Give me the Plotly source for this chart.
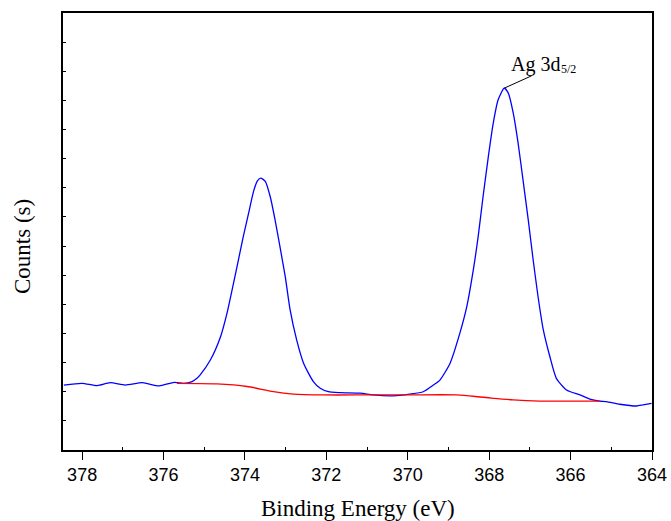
import plotly.graph_objects as go

# Binding energy (eV) and counts (arbitrary units)
be_spectrum = [378.45, 378.00, 377.63, 377.31, 376.94, 376.52, 376.11, 375.74, 375.51,
               375.30, 375.18, 375.10, 374.85, 374.60, 374.44, 374.28, 374.16, 374.04,
               373.91, 373.79, 373.69, 373.61, 373.50, 373.38, 373.26, 373.14, 373.01,
               372.89, 372.73, 372.56, 372.32, 372.15, 371.95, 371.66, 371.17, 370.85,
               370.36, 369.95, 369.62, 369.37, 369.21, 368.96, 368.72, 368.55, 368.39,
               368.27, 368.15, 368.02, 367.90, 367.78, 367.63, 367.53, 367.41, 367.29,
               367.17, 367.04, 366.92, 366.80, 366.67, 366.51, 366.35, 366.10, 365.77,
               365.53, 365.28, 365.12, 364.79, 364.38, 364.22, 364.01]
counts_spectrum = [2.23, 2.29, 2.21, 2.31, 2.23, 2.31, 2.20, 2.32, 2.29,
                   2.35, 2.46, 2.58, 3.09, 3.89, 4.70, 5.73, 6.53, 7.33,
                   8.13, 8.87, 9.25, 9.33, 9.22, 8.70, 7.90, 6.98, 5.95,
                   4.81, 3.78, 2.98, 2.35, 2.12, 2.00, 1.97, 1.95, 1.89,
                   1.86, 1.92, 2.00, 2.23, 2.40, 2.98, 4.01, 4.92, 6.18,
                   7.33, 8.70, 10.08, 11.22, 12.02, 12.42, 12.25, 11.57, 10.54,
                   9.28, 7.90, 6.53, 5.27, 4.12, 3.21, 2.46, 2.06, 1.89,
                   1.75, 1.68, 1.66, 1.57, 1.51, 1.55, 1.60]

be_background = [375.67, 374.69, 373.95, 373.30, 372.81, 372.07, 371.0, 370.0,
                 368.80, 368.15, 367.41, 366.76, 365.28]
counts_background = [2.29, 2.27, 2.18, 2.00, 1.92, 1.89, 1.89, 1.89,
                     1.89, 1.81, 1.72, 1.68, 1.68]

x_ticks = [378, 376, 374, 372, 370, 368, 366, 364]
x_tick_labels = ["378", "376", "374", "372", "370", "368", "366", "364"]
x_minor_ticks = [377, 375, 373, 371, 369, 367, 365]
x_title = "Binding Energy (eV)"
y_title = "Counts (s)"
peak_label = "Ag 3d"
peak_sub = "5/2"

W, H = 671, 521
ML, MT, MR, MB = 63, 13, 19, 71
plot_w = W - ML - MR
plot_h = H - MT - MB

fig = go.Figure()
fig.add_trace(go.Scatter(x=be_spectrum, y=counts_spectrum, mode="lines",
                         line=dict(color="#0000FF", width=1.3, shape="spline", smoothing=0.6),
                         showlegend=False, hoverinfo="skip"))
fig.add_trace(go.Scatter(x=be_background, y=counts_background, mode="lines",
                         line=dict(color="#FF0000", width=1.3, shape="spline", smoothing=0.8),
                         showlegend=False, hoverinfo="skip"))

# peak pointer
ipk = counts_spectrum.index(max(counts_spectrum))
px, py = be_spectrum[ipk], counts_spectrum[ipk]
fig.add_shape(type="line", xref="x", yref="y", x0=px, y0=py, x1=px - 0.672, y1=py + 0.423,
              line=dict(color="black", width=1))
fig.add_annotation(x=px, y=py, xref="x", yref="y", text=peak_label, showarrow=False,
                   xanchor="left", yanchor="middle", xshift=5, yshift=24,
                   font=dict(family="Liberation Serif", size=20, color="black"))
fig.add_annotation(x=px, y=py, xref="x", yref="y", text=peak_sub, showarrow=False,
                   xanchor="left", yanchor="middle", xshift=55, yshift=19,
                   font=dict(family="Liberation Serif", size=12, color="black"))

# axis titles (positions in page pixels converted to paper coordinates)
fig.add_annotation(x=(22 - ML) / plot_w, y=(H - MB - 247) / plot_h, xref="paper", yref="paper",
                   text=y_title, showarrow=False, textangle=-90,
                   xanchor="center", yanchor="middle",
                   font=dict(family="Liberation Serif", size=23, color="black"))
fig.add_annotation(x=(358 - ML) / plot_w, y=(H - MB - 509) / plot_h, xref="paper", yref="paper",
                   text=x_title, showarrow=False,
                   xanchor="center", yanchor="middle",
                   font=dict(family="Liberation Serif", size=23, color="black"))

fig.update_layout(
    width=W, height=H,
    margin=dict(l=ML, r=MR, t=MT, b=MB, autoexpand=False),
    plot_bgcolor="white", paper_bgcolor="white",
    xaxis=dict(range=[378.47, 364], tickvals=x_ticks, ticktext=x_tick_labels,
               ticks="outside", ticklen=8, tickwidth=1.3, tickcolor="black",
               showline=True, linecolor="black", linewidth=1.5, mirror=True,
               showgrid=False, zeroline=False, automargin=False,
               ticklabeloverflow="allow",
               tickfont=dict(family="Liberation Sans", size=18, color="black"),
               minor=dict(tickvals=x_minor_ticks, ticks="inside",
                          ticklen=3, tickcolor="black", tickwidth=1)),
    yaxis=dict(range=[0, 15], dtick=1, tick0=0, ticks="inside", ticklen=3,
               tickcolor="black", tickwidth=1, showticklabels=False,
               showline=True, linecolor="black", linewidth=1.5, mirror=True,
               showgrid=False, zeroline=False, automargin=False),
)

# remove the default 8px page margin so the 671x521 figure fills the window exactly
fig.write_html("out.html", config={"displayModeBar": False},
               post_script="document.body.style.margin='0';document.body.style.overflow='hidden';")
